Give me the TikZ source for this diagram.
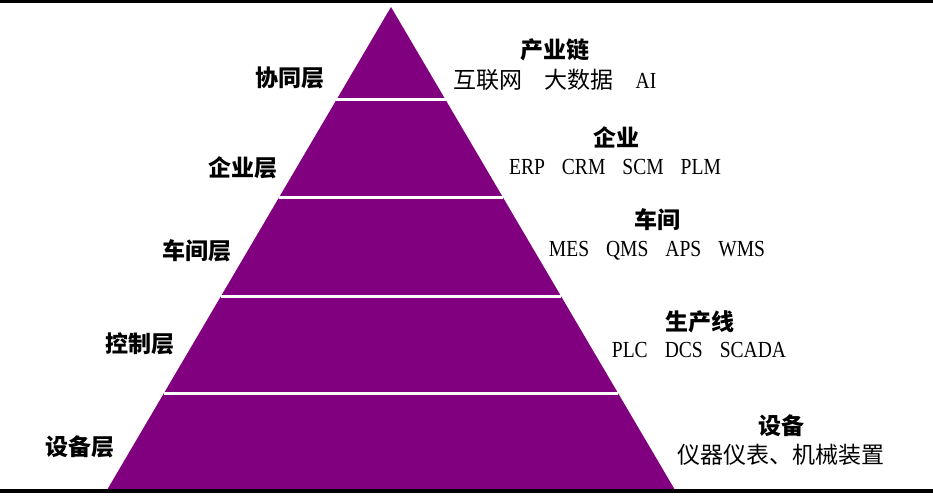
\documentclass[tikz,border=0pt]{standalone}
\usepackage{fontspec}
\usetikzlibrary{calc}
\setmainfont{Liberation Serif}[FakeStretch=0.85]
\newfontfamily\cjk{Noto Sans CJK SC}
\definecolor{pyr}{RGB}{128,0,128}
\tikzset{
  layer/.style={font=\cjk\bfseries\fontsize{23}{26}\selectfont, inner sep=0pt, anchor=center},
  head/.style={font=\cjk\bfseries\fontsize{23}{26}\selectfont, inner sep=0pt, anchor=center},
  body/.style={font=\fontsize{23}{26}\selectfont, inner sep=0pt, anchor=center},
  gap/.style={draw=white, line width=3pt},
  rule/.style={draw=black, line width=3.5pt}
}
\begin{document}
\begin{tikzpicture}[x=1pt,y=-1pt]
\useasboundingbox (0,0) rectangle (933,495);
% frame rules
\coordinate (tl) at (0,1.5);
\coordinate (tr) at (933,1.5);
\coordinate (bl) at (0,491);
\coordinate (br) at (933,491);
% pyramid
\coordinate (apex) at (391,7);
\coordinate (baseL) at (107,490);
\coordinate (baseR) at (675,490);
\fill[pyr] (apex) -- (baseR) -- (baseL) -- cycle;
% separators
\foreach \y in {100,198,296,393}{
  \draw[gap] ($(apex)!{(\y-7)/483}!(baseL)$) -- ($(apex)!{(\y-7)/483}!(baseR)$);
}
\draw[rule] (tl) -- (tr);
\draw[rule] (bl) -- (br);
% layer labels
\node[layer] (l1) at (290,78) {协同层};
\node[layer] (l2) at (243,168) {企业层};
\node[layer] (l3) at (197,251) {车间层};
\node[layer] (l4) at (140,344) {控制层};
\node[layer] (l5) at (80,447) {设备层};
% right side
\node[head] (h1) at (555,50) {产业链};
\node[body] (b1) at (555,80) {{\cjk 互联网}\hspace{22pt}{\cjk 大数据}\hspace{22pt}AI};
\node[head] (h2) at (616,137) {企业};
\node[body] (b2) at (615,167) {ERP\hspace{17pt}CRM\hspace{17pt}SCM\hspace{17pt}PLM};
\node[head] (h3) at (657,220) {车间};
\node[body] (b3) at (657,251) {MES\hspace{17pt}QMS\hspace{17pt}APS\hspace{17pt}WMS};
\node[head] (h4) at (700,322) {生产线};
\node[body] (b4) at (699,350) {PLC\hspace{17pt}DCS\hspace{17pt}SCADA};
\node[head] (h5) at (781,426) {设备};
\node[body] (b5) at (781,455) {\cjk 仪器仪表、机械装置};
\end{tikzpicture}
\end{document}
